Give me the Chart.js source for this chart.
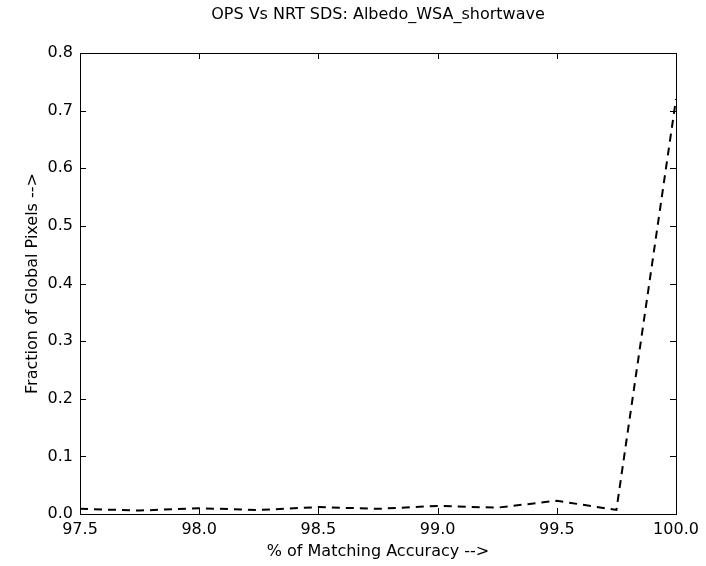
<!DOCTYPE html>
<html>
<head>
<meta charset="utf-8">
<script src="https://cdn.jsdelivr.net/npm/chart.js@4/dist/chart.umd.min.js"></script>
<style>
  html, body { margin: 0; padding: 0; background: #fff; }
  #wrap { width: 706px; height: 566px; }
</style>
</head>
<body>
<div id="wrap"><canvas id="mychart" width="706" height="566"></canvas></div>
<script>
var accuracy = [97.5, 97.75, 98.0, 98.25, 98.5, 98.75, 99.0, 99.25, 99.5, 99.75, 100.0];
var fraction = [0.009, 0.006, 0.010, 0.007, 0.012, 0.009, 0.014, 0.011, 0.023, 0.007, 0.72];
var xTicks = [97.5, 98.0, 98.5, 99.0, 99.5, 100.0];
var yTicks = [0.0, 0.1, 0.2, 0.3, 0.4, 0.5, 0.6, 0.7, 0.8];

var font = "'DejaVu Sans', sans-serif";

// inward tick marks on all four sides, plus the frame
var innerTicks = {
    id: 'innerTicks',
    afterDraw: function(chart) {
        var c = chart.ctx, a = chart.chartArea;
        var xs = chart.scales.x, ys = chart.scales.y;
        var len = 6;
        c.save();
        c.strokeStyle = '#000';
        c.lineWidth = 1;
        c.beginPath();
        xTicks.forEach(function(v) {
            var px = Math.round(xs.getPixelForValue(v)) + 0.5;
            c.moveTo(px, a.bottom); c.lineTo(px, a.bottom - len);
            c.moveTo(px, a.top); c.lineTo(px, a.top + len);
        });
        yTicks.forEach(function(v) {
            var py = Math.round(ys.getPixelForValue(v)) + 0.5;
            c.moveTo(a.left, py); c.lineTo(a.left + len, py);
            c.moveTo(a.right, py); c.lineTo(a.right - len, py);
        });
        c.stroke();
        c.strokeRect(a.left + 0.5, a.top + 0.5, a.right - a.left, a.bottom - a.top);
        c.restore();
    }
};

var ctx = document.getElementById('mychart').getContext('2d');
var myChart = new Chart(ctx, {
    type: 'line',
    data: {
        datasets: [{
            data: accuracy.map(function(x, i) { return { x: x, y: fraction[i] }; }),
            borderColor: '#000',
            borderWidth: 2,
            borderDash: [8, 6],
            pointRadius: 0,
            fill: false,
            tension: 0
        }]
    },
    options: {
        responsive: false,
        animation: false,
        layout: { padding: { left: 0, right: 30, top: 0, bottom: 0 } },
        plugins: {
            legend: { display: false },
            tooltip: { enabled: false },
            title: {
                display: true,
                fullSize: false,
                text: 'OPS Vs NRT SDS: Albedo_WSA_shortwave',
                color: '#000',
                font: { family: font, size: 16, weight: 'normal', lineHeight: 1.2 },
                padding: { top: 5.4, bottom: 28.4 }
            }
        },
        scales: {
            x: {
                type: 'linear',
                min: 97.5,
                max: 100,
                afterBuildTicks: function(s) { s.ticks = xTicks.map(function(v) { return { value: v }; }); },
                afterFit: function(s) { s.height = 52; },
                grid: { display: false, drawTicks: false },
                border: { display: false },
                ticks: {
                    color: '#000',
                    padding: 6,
                    maxRotation: 0,
                    font: { family: font, size: 16 },
                    callback: function(v) { return v.toFixed(1); }
                },
                title: {
                    display: true,
                    text: '% of Matching Accuracy -->',
                    color: '#000',
                    font: { family: font, size: 16 },
                    padding: { top: 4, bottom: 5 }
                }
            },
            y: {
                min: 0,
                max: 0.8,
                afterBuildTicks: function(s) { s.ticks = yTicks.map(function(v) { return { value: v }; }); },
                afterFit: function(s) { s.width = 80; },
                grid: { display: false, drawTicks: false },
                border: { display: false },
                ticks: {
                    color: '#000',
                    padding: 7,
                    font: { family: font, size: 16 },
                    callback: function(v) { return v.toFixed(1); }
                },
                title: {
                    display: true,
                    text: 'Fraction of Global Pixels -->',
                    color: '#000',
                    font: { family: font, size: 16 },
                    padding: { top: 23, bottom: 4 }
                }
            }
        }
    },
    plugins: [innerTicks]
});
</script>
</body>
</html>
